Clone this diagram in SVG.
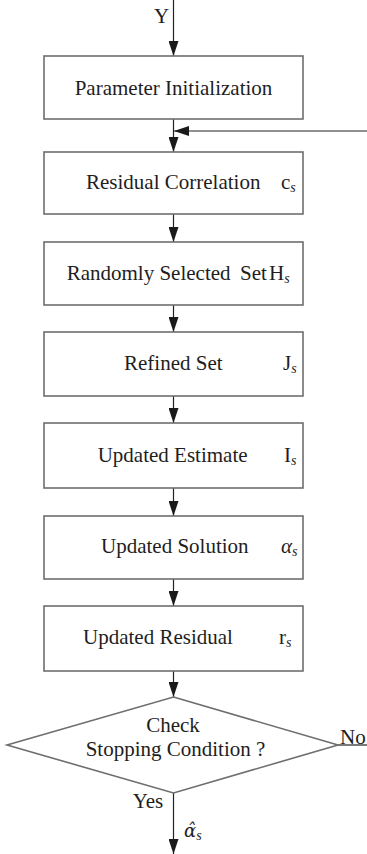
<svg xmlns="http://www.w3.org/2000/svg" width="367" height="854" viewBox="0 0 367 854">
  <style>
    .box { fill: #ffffff; stroke: #6e6e6e; stroke-width: 1.6; }
    .wire { fill: none; stroke: #222222; stroke-width: 1.2; }
    text { font-family: 'Liberation Serif', 'DejaVu Serif', serif; fill: #1e1e1e; }
    .t { font-size: 21px; }
    .mi { font-size: 21px; font-style: italic; }
    .sub { font-size: 14px; font-style: italic; }
    .mid { text-anchor: middle; }
    .hat { font-family: 'DejaVu Serif', serif; font-size: 18px; font-style: italic; }
  </style>
  <defs>
    <marker id="arrow" viewBox="0 0 15 10" refX="15" refY="5" markerWidth="15" markerHeight="10" markerUnits="userSpaceOnUse" orient="auto">
      <path d="M0,0 L15,5 L0,10 Z" fill="#1a1a1a"/>
    </marker>
  </defs>

  <rect width="367" height="854" fill="#ffffff"/>

  <!-- connectors -->
  <g id="connectors">
    <line class="wire" x1="173.5" y1="0" x2="173.5" y2="56" marker-end="url(#arrow)"/>
    <line class="wire" x1="173.5" y1="119" x2="173.5" y2="152" marker-end="url(#arrow)"/>
    <line class="wire" x1="367" y1="131" x2="174" y2="131" marker-end="url(#arrow)"/>
    <line class="wire" x1="173.5" y1="214" x2="173.5" y2="242" marker-end="url(#arrow)"/>
    <line class="wire" x1="173.5" y1="305" x2="173.5" y2="332" marker-end="url(#arrow)"/>
    <line class="wire" x1="173.5" y1="396" x2="173.5" y2="423" marker-end="url(#arrow)"/>
    <line class="wire" x1="173.5" y1="488" x2="173.5" y2="516" marker-end="url(#arrow)"/>
    <line class="wire" x1="173.5" y1="579" x2="173.5" y2="606" marker-end="url(#arrow)"/>
    <line class="wire" x1="173.5" y1="671" x2="173.5" y2="697" marker-end="url(#arrow)"/>
    <line class="wire" x1="173.5" y1="793" x2="173.5" y2="854" marker-end="url(#arrow)"/>
    <line class="wire" x1="338" y1="745" x2="367" y2="745"/>
    <text class="t" x="154" y="23">Y</text>
    <text class="t" x="340" y="744">No</text>
    <text class="t" x="132.7" y="808">Yes</text>
    <text class="hat" x="184" y="837">α̂<tspan class="sub" style="font-family:'Liberation Serif',serif" dy="3">s</tspan></text>
  </g>

  <g id="init">
    <rect class="box" x="44" y="56" width="259" height="63"/>
    <text class="t mid" x="173.5" y="95">Parameter Initialization</text>
  </g>

  <g id="correlation">
    <rect class="box" x="44" y="152" width="259" height="62"/>
    <text class="t" x="86" y="189">Residual Correlation</text>
    <text class="t" x="281" y="189">c<tspan class="sub" dy="3">s</tspan></text>
  </g>

  <g id="random-set">
    <rect class="box" x="44" y="242" width="259" height="63"/>
    <text class="t" x="66.7" y="280">Randomly Selected</text>
    <text class="t" x="240" y="280">Set</text>
    <text class="t" x="269" y="280">H<tspan class="sub" dy="3">s</tspan></text>
  </g>

  <g id="refined-set">
    <rect class="box" x="44" y="332" width="259" height="64"/>
    <text class="t" x="124" y="370">Refined Set</text>
    <text class="t" x="283" y="370">J<tspan class="sub" dy="3">s</tspan></text>
  </g>

  <g id="estimate">
    <rect class="box" x="44" y="423" width="259" height="65"/>
    <text class="t" x="97.7" y="462">Updated Estimate</text>
    <text class="t" x="284" y="462">I<tspan class="sub" dy="3">s</tspan></text>
  </g>

  <g id="solution">
    <rect class="box" x="44" y="516" width="259" height="63"/>
    <text class="t" x="101" y="553">Updated Solution</text>
    <text class="mi" x="281" y="553">α<tspan class="sub" dy="3">s</tspan></text>
  </g>

  <g id="residual">
    <rect class="box" x="44" y="606" width="259" height="65"/>
    <text class="t" x="83" y="644">Updated Residual</text>
    <text class="t" x="279" y="644">r<tspan class="sub" dy="3">s</tspan></text>
  </g>

  <g id="stop-check">
    <polygon class="box" points="173.5,697 338,745 173.5,793 7,745"/>
    <text class="t mid" x="173" y="732">Check</text>
    <text class="t mid" x="175.5" y="756">Stopping Condition ?</text>
  </g>
</svg>
